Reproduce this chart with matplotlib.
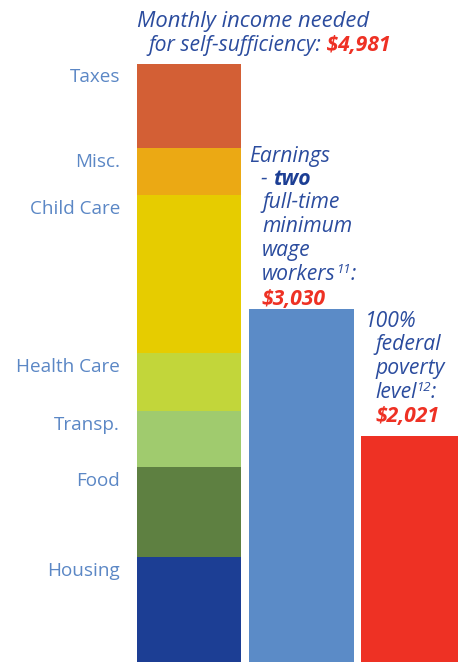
import matplotlib
matplotlib.use("Agg")
import matplotlib.pyplot as plt

# ---- data ----
categories = ["Housing", "Food", "Transp.", "Health Care", "Child Care", "Misc.", "Taxes"]
costs = [1057, 715, 442, 461, 1263, 371, 672]
seg_colors = ["#1C3E94", "#5E8041", "#A0CB6E", "#C2D63A", "#E6CC00", "#EBA914", "#D35F35"]
total_label = "$4,981"
earnings_value = 3030
earnings_label = "$3,030"
poverty_value = 2021
poverty_label = "$2,021"

W, H = 466, 662
FONT = "Open Sans"
TITLE_BLUE = "#2B4C9E"
LABEL_BLUE = "#5B87C5"
RED = "#EE3124"

fig = plt.figure(figsize=(W / 100, H / 100), dpi=100)
ax = fig.add_axes([0, 0, 1, 1])
ax.set_xlim(0, W)
ax.set_ylim(220, 5487)
ax.axis("off")

# stacked bar
bottom = 0
for cat, v, col in zip(categories, costs, seg_colors):
    ax.bar(189, v, width=104, bottom=bottom, color=col, linewidth=0)
    ax.annotate(cat, xy=(120, bottom + v), xytext=(0, -10), textcoords="offset points",
                ha="right", va="center", fontsize=13.6, color=LABEL_BLUE, family=FONT)
    bottom += v

ax.bar(301.5, earnings_value, width=105, color="#5B8BC7", linewidth=0)
ax.bar(409.5, poverty_value, width=97, color=RED, linewidth=0)


def fx(x):
    return x / W


def fy(y):
    return 1 - y / H


def rich_line(x, y, parts, size=15.2):
    base = None
    prev = None
    for p in parts:
        txt = p[0]
        st = dict(family=FONT, style="italic", fontsize=size, color=TITLE_BLUE)
        st.update(p[1] if len(p) > 1 else {})
        sup = st.pop("sup", False)
        if prev is None:
            prev = fig.text(fx(x), fy(y), txt, ha="left", va="baseline", **st)
            base = prev
        elif sup:
            prev = ax.annotate(txt, xy=(1, 0.45), xycoords=prev, ha="left", va="bottom",
                               annotation_clip=False, **st)
        else:
            prev = ax.annotate(txt, xy=(1, 0), xycoords=(prev, base), ha="left", va="bottom",
                               annotation_clip=False, **st)
            base = prev
    return prev


bold_red = dict(weight="bold", color=RED)

# title
rich_line(137, 27, [("Monthly income needed",)], size=15.8)
rich_line(148, 51, [("for self-sufficiency:",), (" " + total_label, bold_red)])

# earnings annotation
rich_line(249, 162, [("Earnings",)])
rich_line(261, 185, [("- ",), ("two", dict(weight="bold", color="#1C3E94"))])
rich_line(262, 208, [("full-time",)])
rich_line(262, 232, [("minimum",)])
rich_line(262, 256, [("wage",)])
rich_line(262, 280, [("workers",), ("11", dict(fontsize=9.5, sup=True)), (":",)])
rich_line(261, 305, [(earnings_label, bold_red)])

# poverty annotation
rich_line(365, 327, [("100%",)])
rich_line(375, 350, [("federal",)])
rich_line(375, 374, [("poverty",)])
rich_line(375, 398, [("level",), ("12", dict(fontsize=9.5, sup=True)), (":",)])
rich_line(375, 422, [(poverty_label, bold_red)])

fig.savefig("out.png", dpi=100)
